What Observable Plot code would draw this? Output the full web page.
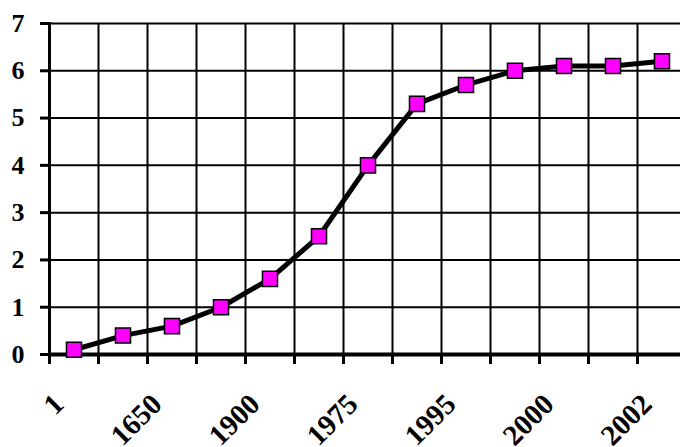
<!DOCTYPE html>
<html>
<head>
<meta charset="utf-8">
<script src="https://cdn.jsdelivr.net/npm/d3@7"></script>
<script src="https://cdn.jsdelivr.net/npm/@observablehq/plot@0.6"></script>
<style>
  html, body { margin: 0; padding: 0; background: white; overflow: hidden; }
</style>
</head>
<body>
<div id="chart"></div>
<script>
const categories = ["1", "1000", "1650", "1800", "1900", "1950", "1975", "1990", "1995", "1999", "2000", "2001", "2002"];
const population = [0.1, 0.4, 0.6, 1.0, 1.6, 2.5, 4.0, 5.3, 5.7, 6.0, 6.1, 6.1, 6.2];
const shownLabels = ["1", "1650", "1900", "1975", "1995", "2000", "2002"];
const yTicks = [0, 1, 2, 3, 4, 5, 6, 7];

const data = categories.map((c, i) => ({year: c, value: population[i]}));
const half = 637 / 13 / 2;

const chart = Plot.plot({
  width: 680,
  height: 447,
  marginTop: 23,
  marginBottom: 93,
  marginLeft: 49,
  marginRight: -6,
  style: {fontFamily: "'Liberation Serif', 'Times New Roman', serif", background: "white", color: "black"},
  x: {type: "band", domain: categories, range: [49, 686], padding: 0, axis: null, label: null},
  y: {domain: [0, 7], range: [354, 23], axis: null, label: null},
  marks: [
    Plot.gridX(categories, {dx: -half, stroke: "black", strokeOpacity: 1, strokeWidth: 2}),
    Plot.gridY(yTicks.filter(d => d > 0), {stroke: "black", strokeOpacity: 1, strokeWidth: 2}),
    Plot.axisX(categories, {dx: -half, tickSize: 10, strokeWidth: 3, tickFormat: () => "", label: null}),
    Plot.axisX(shownLabels, {tickSize: 0, tickRotate: -45, tickPadding: 45, dx: -15, fontSize: 29, fontWeight: "bold", label: null}),
    Plot.frame({anchor: "left", strokeWidth: 3}),
    Plot.ruleY([0], {strokeWidth: 4}),
    Plot.axisY(yTicks, {tickSize: 9, strokeWidth: 3, tickPadding: 16, fontSize: 26, fontWeight: "bold", label: null}),
    Plot.line(data, {x: "year", y: "value", stroke: "black", strokeWidth: 5}),
    Plot.dot(data, {x: "year", y: "value", symbol: "square", r: 8.5, fill: "#ff00ff", stroke: "black", strokeWidth: 1.5})
  ]
});
document.getElementById("chart").appendChild(chart);
</script>
</body>
</html>
